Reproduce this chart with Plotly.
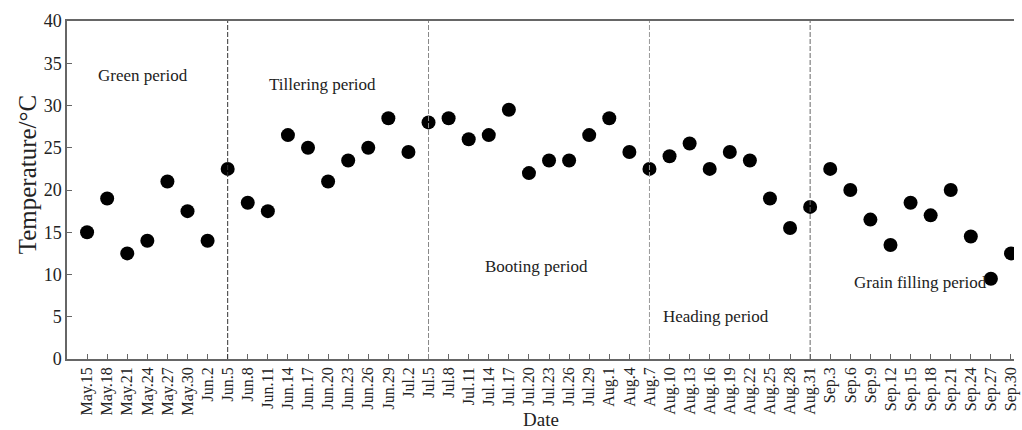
import plotly.graph_objects as go

dates = ["May.15", "May.18", "May.21", "May.24", "May.27", "May.30", "Jun.2", "Jun.5",
         "Jun.8", "Jun.11", "Jun.14", "Jun.17", "Jun.20", "Jun.23", "Jun.26", "Jun.29",
         "Jul.2", "Jul.5", "Jul.8", "Jul.11", "Jul.14", "Jul.17", "Jul.20", "Jul.23",
         "Jul.26", "Jul.29", "Aug.1", "Aug.4", "Aug.7", "Aug.10", "Aug.13", "Aug.16",
         "Aug.19", "Aug.22", "Aug.25", "Aug.28", "Aug.31", "Sep.3", "Sep.6", "Sep.9",
         "Sep.12", "Sep.15", "Sep.18", "Sep.21", "Sep.24", "Sep.27", "Sep.30"]
temps = [15, 19, 12.5, 14, 21, 17.5, 14, 22.5,
         18.5, 17.5, 26.5, 25, 21, 23.5, 25, 28.5,
         24.5, 28, 28.5, 26, 26.5, 29.5, 22, 23.5,
         23.5, 26.5, 28.5, 24.5, 22.5, 24, 25.5, 22.5,
         24.5, 23.5, 19, 15.5, 18, 22.5, 20, 16.5,
         13.5, 18.5, 17, 20, 14.5, 9.5, 12.5]
y_ticks = [0, 5, 10, 15, 20, 25, 30, 35, 40]

boundaries = ["Jun.5", "Jul.5", "Aug.7", "Aug.31"]
period_names = ["Green period", "Tillering period", "Booting period", "Heading period", "Grain filling period"]
period_x = [2.8, 11.7, 22.4, 31.3, 41.5]
period_y = [33.5, 32.5, 11, 5, 9]

FONT = "Liberation Serif"
x_idx = list(range(len(dates)))

fig = go.Figure()
fig.add_trace(go.Scatter(
    x=x_idx, y=temps, mode="markers",
    marker=dict(color="black", size=14),
    showlegend=False,
))

line_colors = ["#333333", "#888888", "#999999", "#666666"]
for b, c in zip(boundaries, line_colors):
    xi = dates.index(b)
    fig.add_shape(type="line", x0=xi, x1=xi, y0=0, y1=40, xref="x", yref="y",
                  line=dict(color=c, width=1, dash="5px,2px"))

for name, px, py in zip(period_names, period_x, period_y):
    fig.add_annotation(x=px, y=py, text=name, showarrow=False,
                       font=dict(family=FONT, size=17, color="#222"))

# axis titles
fig.add_annotation(text="Date", xref="paper", yref="paper", x=0.5, y=-0.178,
                   xanchor="center", yanchor="middle", showarrow=False,
                   font=dict(family=FONT, size=19, color="#222"))
fig.add_annotation(text="Temperature/°C", xref="paper", yref="paper", x=-0.042, y=0.547,
                   xanchor="center", yanchor="middle", textangle=-90, showarrow=False,
                   font=dict(family=FONT, size=25, color="#222"))

fig.update_layout(
    width=1022, height=430,
    margin=dict(l=67, r=2, t=21, b=71),
    plot_bgcolor="white", paper_bgcolor="white",
    font=dict(family=FONT, color="#222"),
)
fig.update_xaxes(
    tickmode="array", tickvals=x_idx, ticktext=dates, tickangle=-90,
    range=[-1, 46.15], showgrid=False, zeroline=False,
    showline=True, linecolor="#666", linewidth=1.5, mirror=True,
    ticks="inside", ticklen=5, tickcolor="#666",
    ticklabeloverflow="allow",
    tickfont=dict(family=FONT, size=16, color="#222"),
)
fig.update_yaxes(
    range=[0, 40], tickmode="array", tickvals=y_ticks,
    showgrid=False, zeroline=False,
    showline=True, linecolor="#666", linewidth=1.5,
    ticks="inside", ticklen=5, tickcolor="#666",
    tickfont=dict(family=FONT, size=18, color="#222"),
)

fig.write_html("out.html", config={"displayModeBar": False},
               post_script="document.body.style.margin='0';document.body.style.overflow='hidden';")
